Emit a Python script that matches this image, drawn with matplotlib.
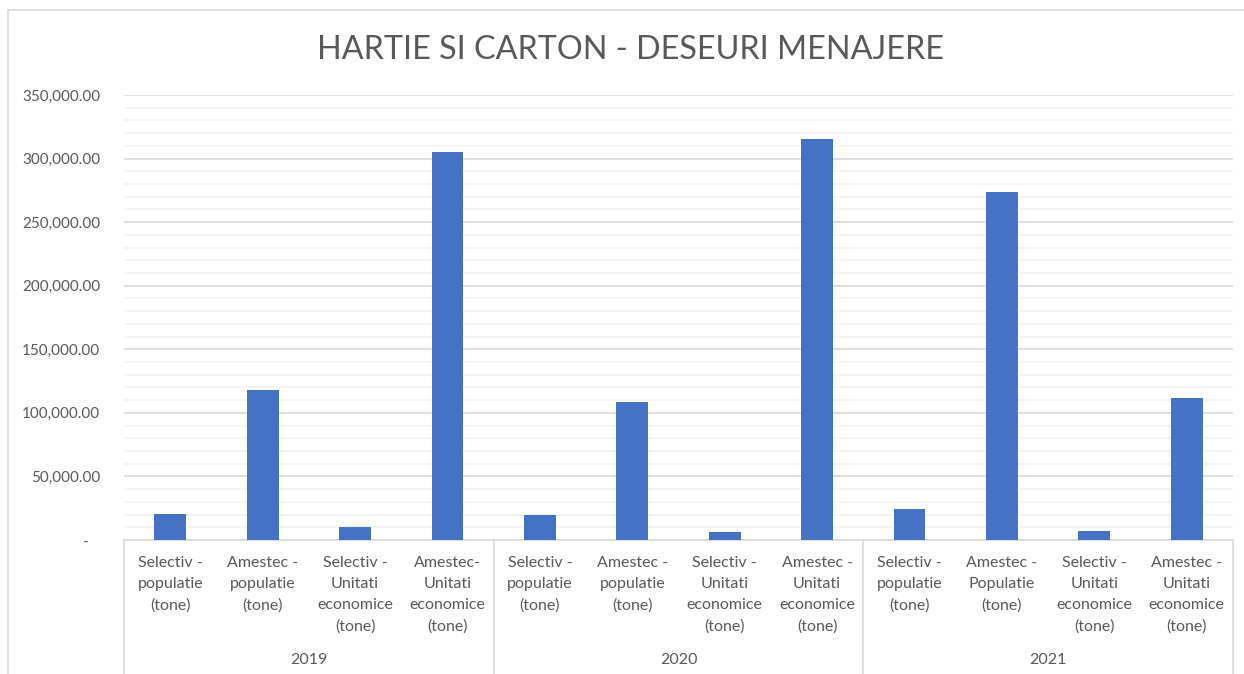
import numpy as np
import matplotlib.pyplot as plt
import matplotlib.transforms as mtransforms
from matplotlib.patches import Rectangle
from matplotlib.ticker import FuncFormatter, MultipleLocator

plt.rcParams['font.family'] = ['Lato', 'DejaVu Sans']

# Datele graficului
ani = ['2019', '2020', '2021']
categorii = [
    'Selectiv -\npopulatie\n(tone)', 'Amestec -\npopulatie\n(tone)',
    'Selectiv -\nUnitati\neconomice\n(tone)', 'Amestec-\nUnitati\neconomice\n(tone)',
    'Selectiv -\npopulatie\n(tone)', 'Amestec -\npopulatie\n(tone)',
    'Selectiv -\nUnitati\neconomice\n(tone)', 'Amestec -\nUnitati\neconomice\n(tone)',
    'Selectiv -\npopulatie\n(tone)', 'Amestec -\nPopulatie\n(tone)',
    'Selectiv -\nUnitati\neconomice\n(tone)', 'Amestec -\nUnitati\neconomice\n(tone)',
]
valori = [20500, 118000, 10000, 305500,
          19700, 108700, 6300, 315500,
          24400, 273800, 7000, 111800]

gri_text = '#595959'

fig = plt.figure(figsize=(12.44, 6.74), dpi=100)
ax = fig.add_axes([124 / 1244, 134 / 674, 1109 / 1244, 445 / 674])

# chenarul graficului
fig.patches.append(Rectangle((8 / 1244, -0.1), 1.2, 1.1 - 10 / 674,
                             transform=fig.transFigure, fill=False,
                             edgecolor='#d9d9d9', linewidth=1.2))

x = np.arange(len(valori))
ax.bar(x, valori, width=0.345, color='#4472c4', zorder=3)

ax.set_xlim(-0.5, len(valori) - 0.5)
ax.set_ylim(0, 350000)
ax.yaxis.set_major_locator(MultipleLocator(50000))
ax.yaxis.set_minor_locator(MultipleLocator(10000))
ax.yaxis.set_major_formatter(FuncFormatter(
    lambda v, p: '-   ' if v == 0 else f'{v:,.2f}'))
ax.grid(axis='y', which='major', color='#d9d9d9', linewidth=1.2, zorder=0)
ax.grid(axis='y', which='minor', color='#f2f2f2', linewidth=1.2, zorder=0)
ax.tick_params(axis='y', which='both', length=0, pad=17, labelsize=11,
               labelcolor=gri_text)
ax.set_xticks([])
for s in ['top', 'right', 'left']:
    ax.spines[s].set_visible(False)
ax.spines['bottom'].set_color('#d9d9d9')
ax.spines['bottom'].set_linewidth(1.2)

# axa de categorii pe doua niveluri
trans = mtransforms.blended_transform_factory(ax.transData, ax.transAxes)
for i, cat in enumerate(categorii):
    ax.text(i, -0.036, cat, transform=trans, ha='center', va='top',
            fontsize=11.5, color=gri_text, linespacing=1.65)
for j, an in enumerate(ani):
    ax.text(4 * j + 1.5, -0.27, an, transform=trans, ha='center', va='center',
            fontsize=11.5, color=gri_text)
for b in [-0.5, 3.5, 7.5, 11.5]:
    ax.plot([b, b], [0, -0.4], transform=trans, color='#d9d9d9',
            linewidth=1.2, clip_on=False)

fig.text(630 / 1244, 1 - 50 / 674, 'HARTIE SI CARTON - DESEURI MENAJERE',
         ha='center', va='center', fontsize=23.3, color=gri_text)

plt.savefig('out.png', dpi=100)
